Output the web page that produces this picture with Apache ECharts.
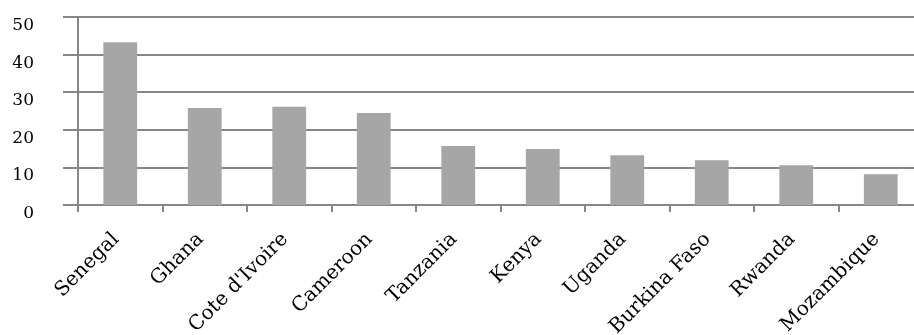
<!DOCTYPE html>
<html>
<head>
<meta charset="utf-8">
<script src="https://cdn.jsdelivr.net/npm/echarts@6/dist/echarts.min.js"></script>
<style>
  html, body { margin: 0; padding: 0; background: #fff; }
  #chart { width: 914px; height: 335px; }
</style>
</head>
<body>
<div id="chart"></div>
<script>
// Country categories along the x axis
const countries = ['Senegal', 'Ghana', "Cote d'Ivoire", 'Cameroon', 'Tanzania',
                   'Kenya', 'Uganda', 'Burkina Faso', 'Rwanda', 'Mozambique'];
// Bar values per country
const values = [43.3, 25.8, 26.1, 24.5, 15.7, 14.9, 13.2, 11.9, 10.6, 8.2];
// Value axis range
const yMin = 0;
const yMax = 50;
const yStep = 10;

const fontFamily = '"DejaVu Serif", serif';
const axisGray = '#878787';

const chart = echarts.init(document.getElementById('chart'), null, { renderer: 'canvas' });
chart.setOption({
  animation: false,
  backgroundColor: '#ffffff',
  // plot area runs slightly past the right edge of the canvas
  grid: {
    left: 78, width: 845, top: 17, height: 188,
    containLabel: false,
    outerBoundsMode: 'none'
  },
  xAxis: {
    type: 'category',
    data: countries,
    boundaryGap: true,
    axisLine: { show: true, lineStyle: { color: axisGray, width: 2 } },
    axisTick: { show: true, alignWithLabel: false, length: 7, lineStyle: { color: axisGray, width: 2 } },
    axisLabel: {
      rotate: 45,
      margin: 27,
      interval: 0,
      hideOverlap: false,
      padding: [0, 6, 0, 0],
      color: '#000',
      fontFamily: fontFamily,
      fontSize: 20
    },
    splitLine: { show: false }
  },
  yAxis: {
    type: 'value',
    min: yMin,
    max: yMax,
    interval: yStep,
    axisLine: { show: true, lineStyle: { color: axisGray, width: 2 } },
    axisTick: { show: true, length: 15, lineStyle: { color: axisGray, width: 2 } },
    axisLabel: {
      margin: 44,
      verticalAlign: 'top',
      color: '#000',
      fontFamily: fontFamily,
      fontSize: 17
    },
    splitLine: { show: true, lineStyle: { color: axisGray, width: 2 } }
  },
  series: [{
    type: 'bar',
    data: values,
    barWidth: '40%',
    itemStyle: { color: '#a6a6a6' }
  }]
});
</script>
</body>
</html>
